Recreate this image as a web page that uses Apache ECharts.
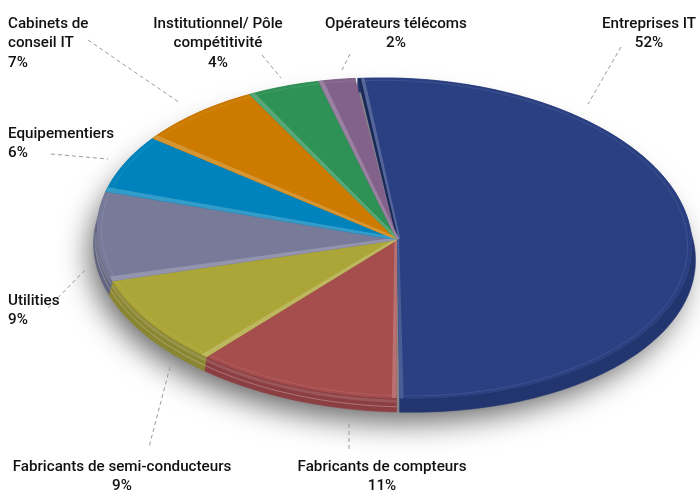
<!DOCTYPE html>
<html><head><meta charset="utf-8">
<style>html,body{margin:0;padding:0;background:#fff}#c{width:700px;height:490px}</style>
<script src="https://cdn.jsdelivr.net/npm/echarts@6/dist/echarts.min.js"></script>
</head><body><div id="c"></div>
<script>
const categories = ['Entreprises IT','Fabricants de compteurs','Fabricants de semi-conducteurs','Utilities','Equipementiers','Cabinets de conseil IT','Institutionnel/ Pôle compétitivité','Opérateurs télécoms'];
const values = [52,11,9,9,6,7,4,2];
const colors = ['#2A4082','#A64D4D','#ACA537','#787A9A','#0083BC','#CC7A00','#2E9155','#82628A'];
const rimColors = ['#22356E','#8C3F42','#8A8530','#62647F','#1A6F99','#A86600','#267A47','#6B5172'];
const labelLines = [['Entreprises IT','52%'],['Fabricants de compteurs','11%'],['Fabricants de semi-conducteurs','9%'],['Utilities','9%'],['Equipementiers','6%'],['Cabinets de','conseil IT','7%'],['Institutionnel/ Pôle','compétitivité','4%'],['Opérateurs télécoms','2%']];
// layout of the labels and their leader lines
const labelLayout = [
 {x:649,y:14,align:'center',lead:[[621,47],[588,104]]},
 {x:382,y:457,align:'center',lead:[[349,424],[349,452]]},
 {x:122,y:457,align:'center',lead:[[170,367],[149,447]]},
 {x:8,y:291,align:'left',lead:[[85,270],[47,309]]},
 {x:8,y:124,align:'left',lead:[[51,154],[108,159]]},
 {x:8,y:14,align:'left',lead:[[88,40],[180,103]]},
 {x:218,y:14,align:'center',lead:[[262,55],[281,78]]},
 {x:396,y:14,align:'center',lead:[[350,54],[341,72]]}
];
const CX=394.5, CY=238, RX=297.5, RY=160, DEPTH=14, START=-7.6, SHEAR=0.027, APEX=[397,240], BLUE_SHIFT=3;
const total = values.reduce((a,b)=>a+b,0);
let sliceShift=0;
function pt(deg,k,dy,grow){const r=deg*Math.PI/180, sn=Math.sin(r);
  const x=CX+(RX+(grow||0))*k*sn+sliceShift*(1-Math.abs(sn));
  return [x, CY-RY*k*Math.cos(r)+(dy||0)+SHEAR*(x-CX)];}
function sliceAngles(i){let a=START;for(let j=0;j<i;j++)a+=values[j]/total*360;return [a,a+values[i]/total*360];}
function arc(a0,a1,k,dy,grow){const n=Math.max(2,Math.ceil((a1-a0)/1.5));const out=[];for(let s=0;s<=n;s++)out.push(pt(a0+(a1-a0)*s/n,k,dy,grow));return out;}
function lighten(hex,t){const v=parseInt(hex.slice(1),16);const c=[v>>16,(v>>8)&255,v&255].map(x=>Math.round(x+(255-x)*t));return 'rgb('+c.join(',')+')';}
function darken(hex,t){const v=parseInt(hex.slice(1),16);const c=[v>>16,(v>>8)&255,v&255].map(x=>Math.round(x*(1-t)));return 'rgb('+c.join(',')+')';}
// band along a slice edge at angle a, w0..w1 px into the slice (dir +1 from its start, -1 from its end)
function edgeBand(a,w0,w1,dir){
  const s=pt(a,1,0),dx=s[0]-APEX[0],dy=s[1]-APEX[1],len=Math.hypot(dx,dy);
  const inner=pt(a+3*dir,1,0);let nx=-dy/len,ny=dx/len;
  if((inner[0]-APEX[0])*nx+(inner[1]-APEX[1])*ny<0){nx=-nx;ny=-ny;}
  const at=w=>{let d=0;while(d<30){const p=pt(a+d*dir,1,0);if(Math.abs((p[0]-APEX[0])*nx+(p[1]-APEX[1])*ny)>=w)return p;d+=0.05;}return pt(a+30*dir,1,0);};
  const o0=w0===0?s:at(w0),o1=at(w1);
  return [[APEX[0]+nx*w0*0.55,APEX[1]+ny*w0*0.55],o0,o1,[APEX[0]+nx*w1*0.55,APEX[1]+ny*w1*0.55]];
}
function renderRim(params,api){
  const i=api.value(0), [a0,a1]=sliceAngles(i), children=[];
  sliceShift=0;
  if(i===0){children.push({type:'polygon',shape:{points:arc(0,360,1,DEPTH-4,0)},
    style:{fill:'#888',shadowBlur:30,shadowColor:'rgba(0,0,0,0.6)',shadowOffsetX:-7,shadowOffsetY:14}});}
  sliceShift=i===0?BLUE_SHIFT:0;
  const top=arc(a0,a1,1,0), bot=arc(a0,a1,1,DEPTH,3.5).reverse();
  children.push({type:'polygon',shape:{points:top.concat(bot)},style:{fill:rimColors[i],stroke:rimColors[i],lineWidth:0.5}});
  if(i>0){
    const lo=Math.max(a0,125), hi=Math.min(a1,270);
    if(hi>lo){
      children.push({type:'polyline',shape:{points:arc(lo,hi,1,DEPTH*0.62,2)},style:{fill:null,stroke:'rgba(255,255,255,0.4)',lineWidth:0.7}});
      children.push({type:'polyline',shape:{points:arc(lo,hi,1,DEPTH*0.22,1)},style:{fill:null,stroke:lighten(rimColors[i],0.12),lineWidth:3}});
    }
  }
  sliceShift=0;
  return {type:'group',children};
}
function renderFace(params,api){
  const i=api.value(0), [a0,a1]=sliceAngles(i), children=[];
  sliceShift=i===0?BLUE_SHIFT:0;
  children.push({type:'polygon',shape:{points:[APEX].concat(arc(a0,a1,1,0))},style:{fill:colors[i],stroke:colors[i],lineWidth:0.4}});
  children.push({type:'polyline',shape:{points:arc(a0+0.6,a1,0.985,0)},style:{fill:null,stroke:'rgba(255,255,255,0.13)',lineWidth:0.7}});
  sliceShift=0;
  return {type:'group',children};
}
function renderBevel(params,api){
  const i=api.value(0), [a0,a1]=sliceAngles(i), children=[];
  sliceShift=i===0?BLUE_SHIFT:0;
  if(i===0){
    children.push({type:'polygon',shape:{points:edgeBand(a0,0,3,1)},style:{fill:darken(colors[i],0.35)}});
    children.push({type:'polygon',shape:{points:edgeBand(a0,3,6.5,1)},style:{fill:lighten(colors[i],0.2)}});
    children.push({type:'polygon',shape:{points:edgeBand(a1,0,4,-1)},style:{fill:lighten(colors[i],0.15)}});
  } else {
    children.push({type:'polygon',shape:{points:edgeBand(a0,0,4.5,1)},style:{fill:lighten(colors[i],0.2)}});
  }
  sliceShift=0;
  return {type:'group',children};
}
function renderLabel(params,api){
  const i=api.value(0), L=labelLayout[i];
  return {type:'group',children:[
    {type:'polyline',shape:{points:L.lead},style:{fill:null,stroke:'#9a9a9a',lineWidth:1,lineDash:[4,3]}},
    {type:'text',style:{x:L.x,y:L.y,text:labelLines[i].join('\n'),align:L.align,verticalAlign:'top',fill:'#111',lineHeight:19.5,font:'500 15.2px Roboto'}}
  ]};
}
const seriesData = values.map((v,i)=>({name:categories[i],value:[i,v]}));
const chart = echarts.init(document.getElementById('c'),null,{renderer:'canvas'});
chart.setOption({animation:false,
  series:[
   {type:'custom',coordinateSystem:'none',renderItem:renderRim,data:seriesData,silent:true,z:1},
   {type:'custom',coordinateSystem:'none',renderItem:renderFace,data:seriesData,silent:true,z:2},
   {type:'custom',coordinateSystem:'none',renderItem:renderBevel,data:seriesData,silent:true,z:3},
   {type:'custom',coordinateSystem:'none',renderItem:renderLabel,data:seriesData,silent:true,z:4}
  ]});
</script></body></html>
